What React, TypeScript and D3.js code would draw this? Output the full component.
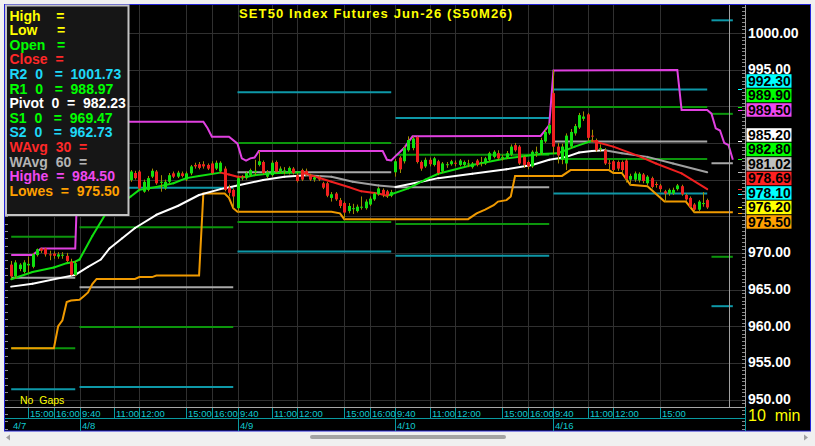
import React, { useRef, useEffect } from "react";
import * as d3 from "d3";

// bar index 0 = 4/8 09:40, 37 bars per session
type Candle = [number, number, number, number]; // open, high, low, close

const FIRST_BAR = -16;

const candles: Candle[] = [
  // 4/7 (afternoon only visible)
  [968.4, 968.9, 966.5, 966.8], [966.8, 969.0, 966.5, 968.7], [967.8, 968.6, 967.5, 968.4], [967.4, 969.0, 967.2, 968.7],
  [968.3, 969.5, 967.3, 968.5], [968.1, 970.0, 967.9, 969.8], [969.7, 970.6, 969.5, 970.5], [970.6, 970.7, 970.0, 970.3],
  [970.6, 970.7, 969.5, 969.8], [969.8, 970.3, 969.0, 969.7], [969.9, 970.2, 969.2, 969.6], [969.5, 970.1, 969.2, 969.8],
  [969.7, 970.1, 969.2, 969.75], [969.6, 970.0, 968.7, 968.9], [968.8, 969.2, 966.9, 967.0], [967.0, 968.9, 966.8, 968.6],
  // 4/8
  [985.0, 987.9, 984.2, 986.8], [986.8, 987.0, 985.0, 985.5], [985.5, 985.8, 984.0, 984.6], [984.6, 985.0, 983.0, 983.5],
  [983.5, 984.5, 983.2, 984.0], [984.0, 984.3, 982.5, 982.9], [982.9, 983.8, 982.4, 983.4], [983.4, 983.6, 981.7, 982.0],
  [982.0, 984.9, 981.8, 982.6], [982.6, 982.9, 981.2, 981.5], [981.5, 982.3, 980.9, 981.9], [981.9, 982.1, 980.5, 980.8],
  [979.95, 981.3, 979.7, 981.1], [980.9, 981.2, 980.0, 980.2], [981.1, 981.3, 978.6, 978.8], [978.35, 980.0, 978.2, 979.7],
  [978.6, 980.5, 978.4, 980.2], [980.4, 981.5, 980.2, 981.2], [981.1, 981.3, 979.3, 979.5], [979.6, 980.6, 978.35, 979.7],
  [978.8, 980.0, 978.6, 979.7], [979.7, 980.9, 979.5, 980.6], [980.85, 981.1, 980.2, 980.4], [980.4, 981.2, 980.2, 980.95],
  [980.85, 981.1, 980.3, 980.5], [980.0, 981.1, 979.8, 980.85], [980.85, 982.0, 980.6, 981.8], [982.0, 982.3, 981.5, 981.8],
  [982.1, 982.4, 981.4, 981.6], [982.1, 982.5, 981.5, 981.8], [982.0, 982.2, 981.3, 981.5], [982.2, 982.5, 980.7, 980.9],
  [981.5, 982.6, 981.3, 982.3], [981.1, 982.5, 980.9, 982.3], [981.5, 981.8, 978.4, 978.6], [978.9, 979.3, 977.7, 978.2],
  [978.6, 978.8, 976.1, 977.7],
  // 4/9
  [976.1, 980.5, 975.6, 980.2], [980.2, 980.6, 979.9, 980.3], [980.2, 981.1, 980.0, 980.9], [980.6, 981.5, 980.4, 981.3],
  [981.0, 982.7, 980.6, 981.2], [982.0, 983.9, 981.8, 982.5], [982.4, 982.6, 980.7, 980.9], [980.4, 981.3, 980.2, 981.0],
  [980.6, 982.6, 980.4, 982.3], [982.4, 982.6, 980.9, 981.1], [981.1, 981.8, 980.9, 981.5], [981.2, 981.7, 980.7, 981.25],
  [980.9, 981.8, 980.7, 981.6], [981.5, 981.7, 980.7, 980.9], [980.6, 980.9, 979.6, 979.8], [981.3, 981.5, 979.8, 980.0],
  [981.2, 981.5, 980.5, 980.7], [980.6, 980.8, 979.8, 980.0], [980.0, 980.5, 979.7, 980.3], [980.4, 980.6, 979.8, 980.0],
  [979.5, 979.7, 978.7, 978.9], [979.5, 979.7, 977.6, 977.8], [977.5, 978.3, 977.0, 978.0], [978.1, 978.3, 977.1, 977.3],
  [977.2, 977.5, 976.1, 976.4], [976.8, 977.0, 974.6, 975.5], [975.7, 976.8, 975.4, 976.4], [976.0, 976.7, 975.3, 976.1],
  [975.7, 976.6, 975.5, 976.3], [976.2, 977.7, 975.9, 976.3], [976.1, 977.3, 975.9, 977.0], [976.6, 977.7, 976.4, 977.4],
  [977.3, 978.3, 977.1, 978.1], [978.0, 979.0, 977.8, 978.8], [978.6, 978.8, 977.6, 977.9], [978.4, 978.6, 977.5, 977.8],
  [977.8, 978.6, 977.6, 978.3],
  // 4/10
  [981.0, 982.8, 980.4, 982.5], [983.0, 983.2, 980.9, 981.4], [982.5, 984.6, 982.2, 984.3], [984.0, 985.9, 983.8, 985.4],
  [984.3, 985.9, 984.0, 985.6], [985.8, 985.9, 982.2, 982.4], [982.4, 982.6, 981.2, 981.5], [981.8, 983.0, 981.6, 982.7],
  [982.7, 983.0, 981.8, 982.1], [982.0, 983.1, 981.8, 982.9], [982.5, 982.7, 980.6, 980.9], [981.1, 982.4, 980.9, 982.2],
  [982.0, 982.4, 981.6, 982.1], [982.1, 982.7, 981.9, 982.5], [982.3, 982.6, 981.8, 982.2], [982.0, 982.8, 981.8, 982.6],
  [982.0, 982.6, 981.8, 982.4], [982.1, 982.7, 981.7, 982.2], [981.7, 982.4, 981.5, 982.2], [982.6, 982.8, 981.8, 982.0],
  [982.3, 983.1, 981.8, 982.4], [982.2, 983.1, 982.0, 982.9], [982.7, 983.8, 982.5, 983.6], [983.1, 984.0, 982.9, 983.8],
  [983.6, 984.0, 982.7, 982.9], [983.0, 983.4, 982.6, 983.1], [983.0, 983.9, 982.8, 983.6], [983.4, 984.8, 983.2, 984.5],
  [984.7, 985.0, 983.8, 984.0], [984.5, 984.7, 982.0, 982.2], [983.1, 983.3, 981.6, 982.0], [982.4, 982.6, 981.4, 981.8],
  [981.8, 984.0, 981.6, 983.8], [983.6, 984.5, 983.1, 983.8], [983.6, 985.7, 983.4, 985.4], [985.2, 986.8, 985.0, 986.5],
  [986.3, 987.7, 986.1, 987.45],
  // 4/16
  [991.8, 994.95, 983.5, 984.5], [984.5, 985.0, 982.2, 983.3], [982.7, 984.9, 982.1, 984.5], [982.2, 986.3, 981.3, 986.0],
  [984.5, 986.9, 984.3, 986.5], [986.3, 987.6, 986.0, 987.3], [987.1, 989.1, 986.9, 988.8], [988.3, 989.3, 988.0, 988.6],
  [988.9, 989.1, 985.3, 985.7], [986.0, 986.8, 985.1, 985.9], [985.4, 985.6, 983.8, 984.0], [984.2, 984.8, 983.8, 984.3],
  [984.0, 984.3, 982.0, 982.2], [982.3, 982.7, 981.3, 982.2], [982.5, 982.7, 981.0, 981.3], [982.4, 982.6, 981.2, 981.5],
  [982.4, 982.6, 980.9, 981.3], [982.6, 982.8, 979.6, 980.1], [980.0, 980.8, 979.3, 980.5], [980.0, 981.1, 979.7, 980.85],
  [979.9, 981.0, 979.6, 980.8], [980.7, 980.9, 979.5, 979.8], [979.5, 980.6, 979.2, 980.4], [980.2, 980.4, 978.8, 979.0],
  [979.4, 979.7, 978.9, 979.3], [979.2, 979.4, 978.3, 978.7], [978.4, 978.6, 977.0, 978.1], [978.1, 978.8, 977.8, 978.6],
  [978.1, 978.9, 977.9, 978.6], [978.7, 979.4, 978.5, 979.2], [979.1, 979.3, 977.8, 978.0], [977.9, 978.1, 977.1, 977.3],
  [977.5, 977.7, 976.1, 976.3], [976.6, 976.8, 975.55, 975.9], [975.9, 977.2, 975.7, 977.0], [976.7, 978.3, 976.3, 976.8],
  [977.2, 977.4, 976.0, 976.2],
];

// indicator lines: [bar, value]
const wavg30: [number, number][] = [
  [-16, 966.4], [-11, 967.4], [-6, 968.0], [-3, 968.6], [-1, 968.8], [0, 969.1], [3, 972.3], [6, 975.2],
  [12, 977.7], [14, 978.6], [18, 979.0], [22, 979.5], [25, 980.2], [28, 980.5], [33, 980.95], [35, 980.7],
  [37, 980.4], [39, 980.35], [41, 980.6], [45, 980.85], [52, 981.0], [59, 979.7], [63, 979.0], [66, 978.4],
  [70, 978.1], [72, 977.8], [77, 978.8], [81, 980.0], [84, 980.8], [92, 982.0], [100, 982.9], [108, 983.5],
  [112, 983.6], [116, 984.5], [120, 985.3], [125, 984.5], [131, 983.2], [135, 982.2], [141, 980.85], [147, 978.7],
];
const wavg60: [number, number][] = [
  [-16, 965.4], [-11, 965.8], [-1, 967.0], [2, 968.1], [5, 969.1], [7, 970.6], [10, 972.0], [13, 973.4],
  [18, 975.2], [23, 976.4], [28, 977.9], [33, 978.7], [37, 979.2], [43, 979.95], [48, 980.4], [53, 980.6],
  [59, 980.4], [64, 979.7], [70, 979.2], [74, 979.0], [80, 979.7], [84, 980.2], [92, 980.8], [100, 981.4],
  [106, 982.0], [110, 982.7], [114, 983.1], [117, 983.7], [120, 983.9], [123, 984.0], [127, 983.6], [133, 983.1],
  [139, 982.2], [147, 981.0],
];
const highest: [number, number][] = [
  [-16, 969.7], [-11, 969.7], [-9, 970.6], [-1, 970.6], [0, 987.9], [29, 987.9], [30, 987.0], [31, 985.85],
  [35, 985.85], [37, 984.9], [38, 982.9], [39, 982.6], [40, 982.9], [41, 983.0], [42, 983.9], [71, 983.9],
  [72, 982.7], [73, 982.6], [74, 983.2], [76, 984.3], [78, 985.9], [108, 985.95], [109, 986.7], [110, 987.45],
  [111, 994.9], [140, 994.95], [141, 989.5], [147, 989.5], [148, 989.0], [149, 987.0], [150, 986.7], [151, 985.0],
  [152, 984.7], [153, 982.7],
];
const lowest: [number, number][] = [
  [-16, 957.0], [-6, 957.0], [-5, 960.0], [-4, 960.8], [-3, 963.3], [-2, 963.5], [0, 963.6], [1, 964.1],
  [2, 964.6], [3, 965.75], [4, 966.45], [13, 966.45], [14, 966.7], [17, 966.7], [18, 966.9], [28, 966.9],
  [29, 978.1], [34, 978.1], [35, 977.5], [36, 976.1], [37, 975.6], [59, 975.6], [61, 975.4], [62, 974.6],
  [91, 974.6], [93, 975.4], [95, 975.9], [97, 976.5], [98, 977.0], [100, 977.2], [101, 977.7], [102, 980.5],
  [113, 980.5], [115, 981.3], [124, 981.3], [125, 980.9], [127, 980.9], [129, 979.3], [133, 979.1], [137, 977.0],
  [142, 977.0], [144, 975.55], [153, 975.55],
];

// floor pivots per session
const sessionFirst = [-16, 0, 37, 74, 111, 148];
const sessionLast = [-1, 36, 73, 110, 147, 153];
const pivR2 = [981.8, 978.9, 991.9, 988.4, 992.3, 1001.73];
const pivR1 = [972.2, 973.5, 985.0, 983.4, 989.9, 988.97];
const pivP = [966.6, 965.3, 981.0, 978.95, 985.2, 982.23];
const pivS1 = [957.0, 959.9, 974.2, 973.95, 982.8, 969.47];
const pivS2 = [951.4, 951.7, 970.2, 969.6, 978.1, 962.73];

const timeTickBars = [-12, -6, 0, 8, 14, 25, 31, 37, 45, 51, 62, 68, 74, 82, 88, 99, 105, 111, 119, 125, 136];
const timeTickLabels = ["15:00", "16:00", "9:40", "11:00", "12:00", "15:00", "16:00", "9:40", "11:00", "12:00", "15:00",
  "16:00", "9:40", "11:00", "12:00", "15:00", "16:00", "9:40", "11:00", "12:00", "15:00"];
const dateTickBars = [-37, 0, 37, 74, 111];
const dateLabels = ["4/7", "4/8", "4/9", "4/10", "4/16"];

const priceTicks = [1000, 995, 990, 985, 980, 975, 970, 965, 960, 955, 950];
const cursorBar = 152;

// right axis tags, in placement priority
const tagValues = [976.2, 989.5, 975.5, 978.1, 978.69, 981.02, 982.8, 985.2, 989.9, 992.3];
const tagColors = ["#ffff00", "#f048f0", "#ffa000", "#00ffff", "#ff2020", "#c0c0c0", "#00ff00", "#ffffff", "#00ff00", "#00ffff"];

const highestNow = 984.5;
const lowestNow = 975.5;

const FONT = "'Liberation Sans', Arial, Helvetica, sans-serif";

export default function App() {
  const svgRef = useRef<SVGSVGElement | null>(null);

  useEffect(() => {
    document.body.style.margin = "0";
    const W = 815;
    const H = 446;
    const plot = { left: 5, right: 745, top: 5, bottom: 407 };

    const svg = d3.select(svgRef.current);
    svg.selectAll("*").remove();
    svg.attr("width", W).attr("height", H);

    const x = d3.scaleLinear().domain([-17.45, 155.85]).range([plot.left, plot.right]);
    const y = d3.scaleLinear().domain([950, 1000]).range([399.5, 33]);

    // window + chart frame
    svg.append("rect").attr("width", W).attr("height", H).attr("fill", "#f0f0f0");
    svg.append("rect").attr("x", 4.5).attr("y", 4.5).attr("width", 806).attr("height", 426.5)
      .attr("fill", "#000").attr("stroke", "#2424d8");

    const defs = svg.append("defs");
    defs.append("clipPath").attr("id", "plotClip").append("rect")
      .attr("x", 9).attr("y", plot.top).attr("width", plot.right - 9).attr("height", plot.bottom - plot.top);

    // grid
    const grid = svg.append("g");
    grid.selectAll("line.h").data(priceTicks).join("line")
      .attr("x1", plot.left).attr("x2", plot.right)
      .attr("y1", (d) => Math.round(y(d)) + 0.5).attr("y2", (d) => Math.round(y(d)) + 0.5)
      .attr("stroke", "#303030");
    grid.selectAll("line.v").data(timeTickBars).join("line")
      .attr("x1", (d) => Math.round(x(d)) + 0.5).attr("x2", (d) => Math.round(x(d)) + 0.5)
      .attr("y1", plot.top).attr("y2", plot.bottom)
      .attr("stroke", "#303030");

    // minor ticks on both price edges
    const leftTicks = d3.range(946, 1004, 1);
    svg.append("g").selectAll("line").data(leftTicks).join("line")
      .attr("x1", 5).attr("x2", 8)
      .attr("y1", (d) => Math.round(y(d)) + 0.5).attr("y2", (d) => Math.round(y(d)) + 0.5)
      .attr("stroke", "#8a8a8a");
    const rightTicks = d3.range(946, 1004, 0.5);
    svg.append("g").selectAll("line").data(rightTicks).join("line")
      .attr("x1", 742).attr("x2", 745)
      .attr("y1", (d) => Math.round(y(d)) + 0.5).attr("y2", (d) => Math.round(y(d)) + 0.5)
      .attr("stroke", "#8a8a8a");

    const body = svg.append("g").attr("clip-path", "url(#plotClip)");

    // pivot segments
    const levels: { vals: number[]; color: string }[] = [
      { vals: pivR2, color: "#0e98a8" },
      { vals: pivR1, color: "#0c960c" },
      { vals: pivP, color: "#a8a8a8" },
      { vals: pivS1, color: "#0c960c" },
      { vals: pivS2, color: "#0e98a8" },
    ];
    levels.forEach((lv) => {
      body.append("g").selectAll("line").data(sessionFirst).join("line")
        .attr("x1", (d) => x(d)).attr("x2", (_d, k) => x(sessionLast[k]))
        .attr("y1", (_d, k) => y(lv.vals[k])).attr("y2", (_d, k) => y(lv.vals[k]))
        .attr("stroke", lv.color).attr("stroke-width", 2);
    });

    // vertical cursor line
    svg.append("line")
      .attr("x1", Math.round(x(cursorBar)) + 0.5).attr("x2", Math.round(x(cursorBar)) + 0.5)
      .attr("y1", plot.top).attr("y2", plot.bottom).attr("stroke", "#a0a0a0");

    // highest / lowest
    const lineGen = d3.line<[number, number]>().x((d) => x(d[0])).y((d) => y(d[1]));
    body.append("path").datum(highest).attr("fill", "none").attr("stroke", "#e040e0")
      .attr("stroke-width", 2).attr("d", lineGen);
    body.append("path").datum(lowest).attr("fill", "none").attr("stroke", "#f09a00")
      .attr("stroke-width", 2).attr("d", lineGen);

    // weighted averages, coloured by slope
    const slopeLine = (pts: [number, number][], up: string, down: string) => {
      const segs = d3.pairs(pts);
      body.append("g").selectAll("line").data(segs).join("line")
        .attr("x1", (d) => x(d[0][0])).attr("y1", (d) => y(d[0][1]))
        .attr("x2", (d) => x(d[1][0])).attr("y2", (d) => y(d[1][1]))
        .attr("stroke", (d) => (d[1][1] >= d[0][1] ? up : down))
        .attr("stroke-width", 2).attr("stroke-linecap", "round");
    };
    slopeLine(wavg60, "#ffffff", "#a0a0a0");
    slopeLine(wavg30, "#10e010", "#f02020");

    // candles
    const cg = body.append("g");
    cg.selectAll("line").data(candles).join("line")
      .attr("x1", (_d, k) => Math.round(x(FIRST_BAR + k)) + 0.5)
      .attr("x2", (_d, k) => Math.round(x(FIRST_BAR + k)) + 0.5)
      .attr("y1", (d) => y(d[1])).attr("y2", (d) => y(d[2]))
      .attr("stroke", "#a08c00");
    cg.selectAll("rect").data(candles).join("rect")
      .attr("x", (_d, k) => Math.round(x(FIRST_BAR + k)) - 1)
      .attr("width", 3)
      .attr("y", (d) => y(Math.max(d[0], d[3])))
      .attr("height", (d) => Math.max(1, Math.abs(y(d[0]) - y(d[3]))))
      .attr("fill", (d) => (d[3] >= d[0] ? "#10e010" : "#f02020"));

    // tags on the price axis (placed first so covered tick labels can be skipped)
    const tagH = 14.5;
    const placed: { v: number; c: string; ty: number; ly: number }[] = [];
    tagValues.forEach((v, k) => {
      const ty = y(v);
      let ly = ty;
      let dir = 0;
      for (let guard = 0; guard < 30; guard++) {
        const hit = placed.find((p) => Math.abs(p.ly - ly) < tagH - 0.01);
        if (!hit) break;
        if (dir === 0) dir = ty < hit.ly ? -1 : 1;
        ly = hit.ly + dir * tagH;
      }
      placed.push({ v, c: tagColors[k], ty, ly });
    });

    // price axis
    svg.append("line").attr("x1", 745.5).attr("x2", 745.5).attr("y1", plot.top).attr("y2", plot.bottom)
      .attr("stroke", "#a0a0a0");
    const visibleTicks = priceTicks.filter((t) => !placed.some((p) => Math.abs(p.ly - y(t)) < 10));
    svg.append("g").selectAll("text").data(visibleTicks).join("text")
      .attr("x", 748).attr("y", (d) => y(d) + 4.5)
      .attr("fill", "#ffffff").attr("font-family", FONT).attr("font-size", 14).attr("font-weight", "bold")
      .text((d) => d.toFixed(2));

    const tags = svg.append("g").selectAll("g").data(placed).join("g");
    tags.append("line")
      .attr("x1", 738).attr("x2", 742)
      .attr("y1", (d) => Math.round(d.ty) + 0.5).attr("y2", (d) => Math.round(d.ty) + 0.5)
      .attr("stroke", (d) => d.c);
    tags.append("rect")
      .attr("x", 746.5).attr("width", 45).attr("y", (d) => d.ly - 6.75).attr("height", 13.5)
      .attr("fill", (d) => d.c);
    tags.append("text")
      .attr("x", 748).attr("y", (d) => d.ly + 5)
      .attr("fill", "#000").attr("font-family", FONT).attr("font-size", 14).attr("font-weight", "bold")
      .text((d) => d.v.toFixed(2));

    // time axis
    const axisCol = "#0a9aa0";
    const axisText = "#10c8d0";
    svg.append("line").attr("x1", plot.left).attr("x2", 745).attr("y1", 407.5).attr("y2", 407.5)
      .attr("stroke", "#a8a8a8");
    svg.append("line").attr("x1", plot.left).attr("x2", 745).attr("y1", 418.5).attr("y2", 418.5)
      .attr("stroke", axisCol);
    svg.append("line").attr("x1", 745.5).attr("x2", 745.5).attr("y1", 407).attr("y2", 431)
      .attr("stroke", axisCol);
    const tt = svg.append("g");
    tt.selectAll("line").data(timeTickBars).join("line")
      .attr("x1", (d) => Math.round(x(d)) + 0.5).attr("x2", (d) => Math.round(x(d)) + 0.5)
      .attr("y1", 408).attr("y2", (d) => (dateTickBars.includes(d) ? 431 : 418))
      .attr("stroke", axisCol);
    tt.selectAll("text").data(timeTickBars).join("text")
      .attr("x", (d) => Math.round(x(d)) + 2).attr("y", 416.5)
      .attr("fill", axisText).attr("font-family", FONT).attr("font-size", 9.5)
      .text((_d, k) => timeTickLabels[k]);
    svg.append("g").selectAll("text").data(dateTickBars).join("text")
      .attr("x", (d) => Math.max(13, Math.round(x(d)) + 2)).attr("y", 428.5)
      .attr("fill", axisText).attr("font-family", FONT).attr("font-size", 9.5)
      .text((_d, k) => dateLabels[k]);

    svg.append("text").attr("x", 748).attr("y", 421).attr("fill", "#ffff00")
      .attr("font-family", FONT).attr("font-size", 16).style("white-space", "pre").text("10  min");
    svg.append("text").attr("x", 20).attr("y", 404).attr("fill", "#ffff00")
      .attr("font-family", FONT).attr("font-size", 10.5).style("white-space", "pre").text("No  Gaps");

    // title
    svg.append("text").attr("x", 375.5).attr("y", 18).attr("text-anchor", "middle")
      .attr("fill", "#ffff00").attr("font-family", FONT).attr("font-size", 13).attr("font-weight", "bold")
      .attr("textLength", 273).attr("lengthAdjust", "spacing")
      .text("SET50 Index Futures Jun-26 (S50M26)");

    // legend box
    const nx = sessionFirst.length - 1;
    const legendRows: [string, string][] = [
      ["High    =", "#ffff00"],
      ["Low     =", "#ffff00"],
      ["Open   =", "#00ff00"],
      ["Close  =", "#ff2828"],
      [`R2  0   =  ${pivR2[nx].toFixed(2)}`, "#1ed8f8"],
      [`R1  0   =  ${pivR1[nx].toFixed(2)}`, "#00ff00"],
      [`Pivot  0  =  ${pivP[nx].toFixed(2)}`, "#ffffff"],
      [`S1  0   =  ${pivS1[nx].toFixed(2)}`, "#00ff00"],
      [`S2  0   =  ${pivS2[nx].toFixed(2)}`, "#1ed8f8"],
      ["WAvg  30  =", "#ff2828"],
      ["WAvg  60  =", "#b4b4b4"],
      [`Highe  =  ${highestNow.toFixed(2)}`, "#f048f0"],
      [`Lowes  =  ${lowestNow.toFixed(2)}`, "#ffa000"],
    ];
    svg.append("rect").attr("x", 6).attr("y", 5.5).attr("width", 122.5).attr("height", 209.5)
      .attr("fill", "#161616").attr("stroke", "#c4c4c4").attr("stroke-width", 2);
    svg.append("g").selectAll("text").data(legendRows).join("text")
      .attr("x", 9.5).attr("y", (_d, k) => 20.6 + k * 14.6)
      .attr("fill", (d) => d[1]).attr("font-family", FONT).attr("font-size", 14).attr("font-weight", "bold")
      .style("white-space", "pre")
      .text((d) => d[0]);

    // scrollbar
    svg.append("rect").attr("x", 310).attr("y", 435).attr("width", 196).attr("height", 4).attr("rx", 2)
      .attr("fill", "#a4a4a4");
    svg.append("path").attr("d", "M6,437.5 L10,434.5 L10,440.5 Z").attr("fill", "#a0a0a0");
    svg.append("path").attr("d", "M808,437.5 L804,434.5 L804,440.5 Z").attr("fill", "#a0a0a0");
  }, []);

  return <svg ref={svgRef} style={{ display: "block" }} />;
}
